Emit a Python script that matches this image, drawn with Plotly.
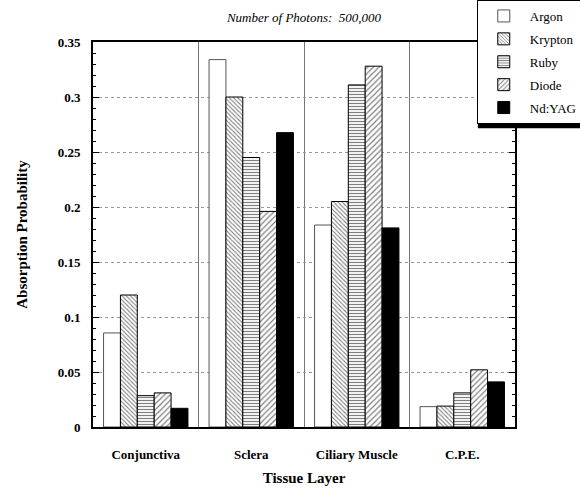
import plotly.graph_objects as go

categories = ["Conjunctiva", "Sclera", "Ciliary Muscle", "C.P.E."]
series_names = ["Argon", "Krypton", "Ruby", "Diode", "Nd:YAG"]
argon = [0.0855, 0.334, 0.1836, 0.0185]
krypton = [0.120, 0.300, 0.205, 0.019]
ruby = [0.0285, 0.245, 0.311, 0.031]
diode = [0.031, 0.196, 0.328, 0.052]
ndyag = [0.017, 0.2676, 0.181, 0.041]
values = [argon, krypton, ruby, diode, ndyag]

styles = [
    dict(color="white", line=dict(color="#555", width=1), pattern=dict(shape="")),
    dict(color="white", line=dict(color="black", width=1),
         pattern=dict(shape="\\", fgcolor="black", bgcolor="white", size=3, solidity=0.35)),
    dict(color="white", line=dict(color="black", width=1),
         pattern=dict(shape="-", fgcolor="black", bgcolor="white", size=3, solidity=0.4)),
    dict(color="white", line=dict(color="black", width=1),
         pattern=dict(shape="/", fgcolor="black", bgcolor="white", size=4, solidity=0.3)),
    dict(color="black", line=dict(color="black", width=1), pattern=dict(shape="")),
]

serif = "Liberation Serif"

fig = go.Figure()
for name, vals, st in zip(series_names, values, styles):
    fig.add_trace(go.Bar(x=categories, y=vals, name=name, marker=st, legendgroup=name))

# legend drop shadow (paper coords: plot spans 93..515 px, 427..42 px)
fig.add_shape(type="rect", xref="paper", yref="paper",
              x0=0.912, x1=1.16, y0=0.776, y1=1.10,
              fillcolor="black", line=dict(width=0), layer="above")

fig.update_layout(
    width=580, height=493,
    margin=dict(l=93, r=65, t=42, b=66, autoexpand=False),
    paper_bgcolor="white", plot_bgcolor="white",
    barmode="group", bargap=0.2, bargroupgap=0,
    font=dict(family=serif, color="black"),
    title=dict(text="<i>Number of Photons:  500,000</i>", x=0.5, xref="paper",
               y=0.965, yref="container", yanchor="middle",
               font=dict(family=serif, size=13, color="black")),
    legend=dict(x=0.822, y=1.0, xref="container", yref="container",
                xanchor="left", yanchor="top",
                bgcolor="white", bordercolor="black", borderwidth=1,
                font=dict(family=serif, size=13, color="black"),
                itemwidth=42, tracegroupgap=3),
    xaxis=dict(
        type="category", tickson="boundaries",
        showgrid=True, gridcolor="#777", gridwidth=1,
        showline=True, linecolor="black", linewidth=2, mirror=True,
        ticks="", ticklabelstandoff=14,
        tickfont=dict(family=serif, size=13, color="black", weight="bold"),
        title=dict(text="<b>Tissue Layer</b>", font=dict(family=serif, size=15), standoff=12),
    ),
    yaxis=dict(
        range=[0, 0.35], dtick=0.05, tick0=0,
        showgrid=True, gridcolor="#999", gridwidth=1, griddash="dot",
        showline=True, linecolor="black", linewidth=2, mirror="ticks",
        ticks="inside", ticklen=6, tickcolor="black", ticklabelstandoff=8,
        minor=dict(dtick=0.01, ticks="inside", ticklen=3, tickcolor="black", showgrid=False),
        tickfont=dict(family=serif, size=13, color="black", weight="bold"),
        title=dict(text="<b>Absorption Probability</b>", font=dict(family=serif, size=15), standoff=26),
        zeroline=False,
    ),
)

fig.write_html("out.html")
